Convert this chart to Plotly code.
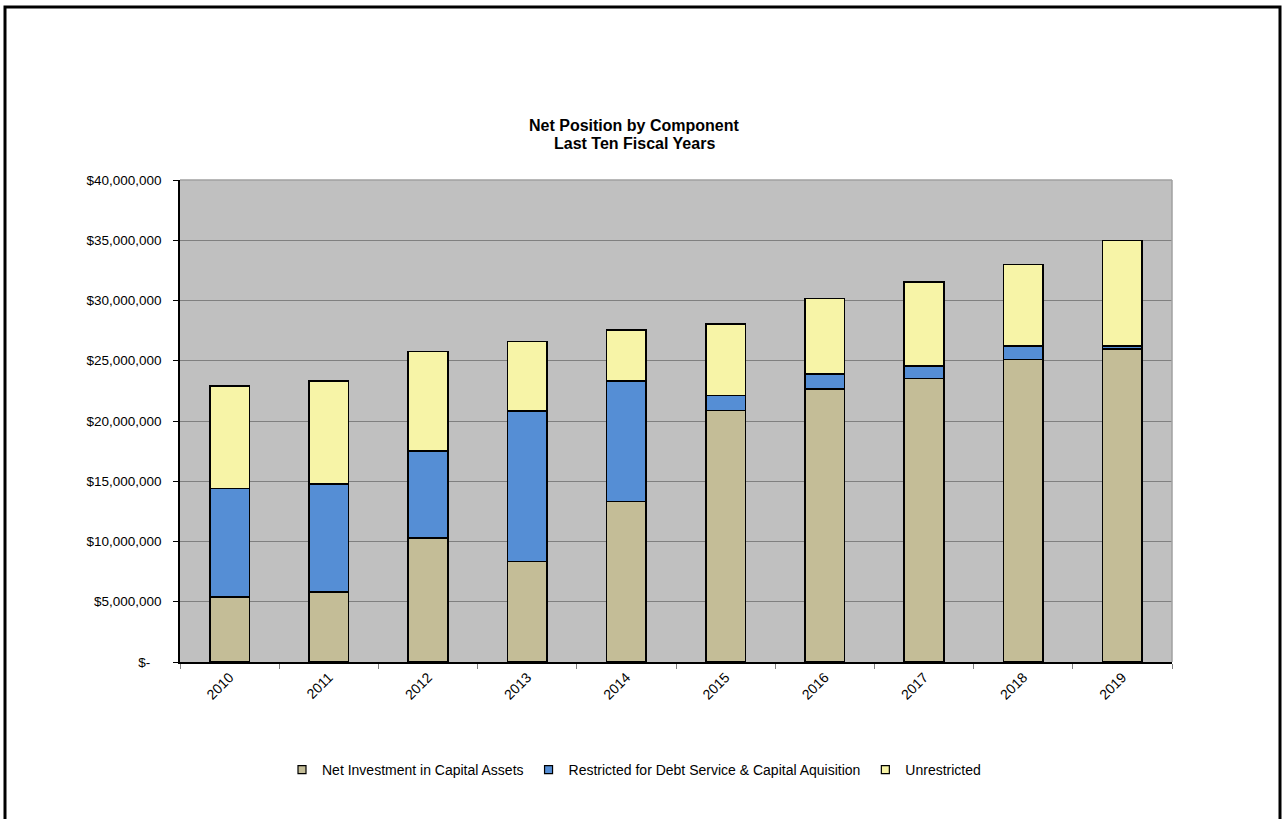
import plotly.graph_objects as go

# Fiscal years and net position components (in dollars)
years = ["2010", "2011", "2012", "2013", "2014", "2015", "2016", "2017", "2018", "2019"]
net_investment = [5.40e6, 5.81e6, 10.30e6, 8.34e6, 13.32e6, 20.88e6, 22.65e6, 23.54e6, 25.12e6, 25.97e6]
restricted = [9.00e6, 8.95e6, 7.22e6, 12.48e6, 9.99e6, 1.25e6, 1.27e6, 1.04e6, 1.10e6, 0.25e6]
unrestricted = [8.50e6, 8.55e6, 8.23e6, 5.76e6, 4.24e6, 5.92e6, 6.26e6, 6.96e6, 6.75e6, 8.75e6]

y_tick_vals = [0, 5e6, 10e6, 15e6, 20e6, 25e6, 30e6, 35e6, 40e6]
y_tick_text = ["$-\u00a0\u00a0\u00a0", "$5,000,000", "$10,000,000", "$15,000,000", "$20,000,000",
               "$25,000,000", "$30,000,000", "$35,000,000", "$40,000,000"]

title_lines = ["Net Position by Component", "Last Ten Fiscal Years"]

series = [
    ("Net Investment in Capital Assets", net_investment, "#C4BD97"),
    ("Restricted for Debt Service & Capital Aquisition", restricted, "#558ED5"),
    ("Unrestricted", unrestricted, "#F7F4A7"),
]

FONT = "Liberation Sans, Arial, sans-serif"

fig = go.Figure()
for name, vals, color in series:
    fig.add_trace(go.Bar(
        x=years, y=vals, name=name, showlegend=False,
        marker=dict(color=color, line=dict(color="#000000", width=1.5)),
    ))
    # small square legend keys
    fig.add_trace(go.Scatter(
        x=[None], y=[None], mode="markers", name=name, showlegend=True,
        marker=dict(symbol="square", size=8, color=color,
                    line=dict(color="#000000", width=1.2)),
    ))

W, H = 1286, 819
L, R, T, B = 180, 114, 180, 157
pw, ph = W - L - R, H - T - B


def px_x(p):
    return (p - L) / pw


def px_y(p):
    return (H - B - p) / ph


title_annotations = [
    dict(
        text=f"<b>{line}</b>",
        xref="paper", yref="paper",
        x=px_x(634), y=px_y(yc),
        xanchor="center", yanchor="middle",
        showarrow=False,
        font=dict(size=16, family=FONT),
    )
    for line, yc in zip(title_lines, [126, 143])
]

fig.update_layout(
    width=W, height=H,
    margin=dict(l=L, r=R, t=T, b=B, pad=0),
    barmode="stack",
    bargap=0.6,
    paper_bgcolor="white",
    plot_bgcolor="#C0C0C0",
    font=dict(family=FONT, size=13, color="#000000"),
    showlegend=True,
    legend=dict(
        orientation="h",
        x=px_x(634), xanchor="center",
        y=px_y(770), yanchor="middle",
        font=dict(size=14, family=FONT),
        traceorder="normal",
        bgcolor="rgba(0,0,0,0)",
        itemwidth=30,
        tracegroupgap=0,
    ),
    xaxis=dict(
        type="category",
        tickangle=-45,
        tickson="boundaries",
        ticks="outside", ticklen=5, tickcolor="#808080",
        showline=True, linecolor="#000000", linewidth=1.5,
        showgrid=False,
        tickfont=dict(size=14, family=FONT),
    ),
    yaxis=dict(
        range=[0, 40e6],
        tickvals=y_tick_vals, ticktext=y_tick_text,
        ticks="outside", ticklen=5, tickcolor="#000000",
        ticklabelstandoff=9,
        showline=True, linecolor="#000000", linewidth=1.5,
        showgrid=True, gridcolor="#808080", gridwidth=1,
        zeroline=False,
        tickfont=dict(size=13.5, family=FONT),
    ),
    annotations=title_annotations,
    shapes=[
        # light border on the top and right of the plotting area
        dict(type="line", xref="paper", yref="paper", x0=0, x1=1, y0=1, y1=1,
             line=dict(color="#A0A0A0", width=1.5), layer="above"),
        dict(type="line", xref="paper", yref="paper", x0=1, x1=1, y0=0, y1=1,
             line=dict(color="#A0A0A0", width=1.5), layer="above"),
        # outer frame around the chart
        dict(type="rect", xref="paper", yref="paper",
             x0=px_x(5), x1=px_x(1280), y0=px_y(826), y1=px_y(7),
             line=dict(color="#000000", width=3), fillcolor="rgba(0,0,0,0)"),
    ],
)

fig.write_html("out.html")
